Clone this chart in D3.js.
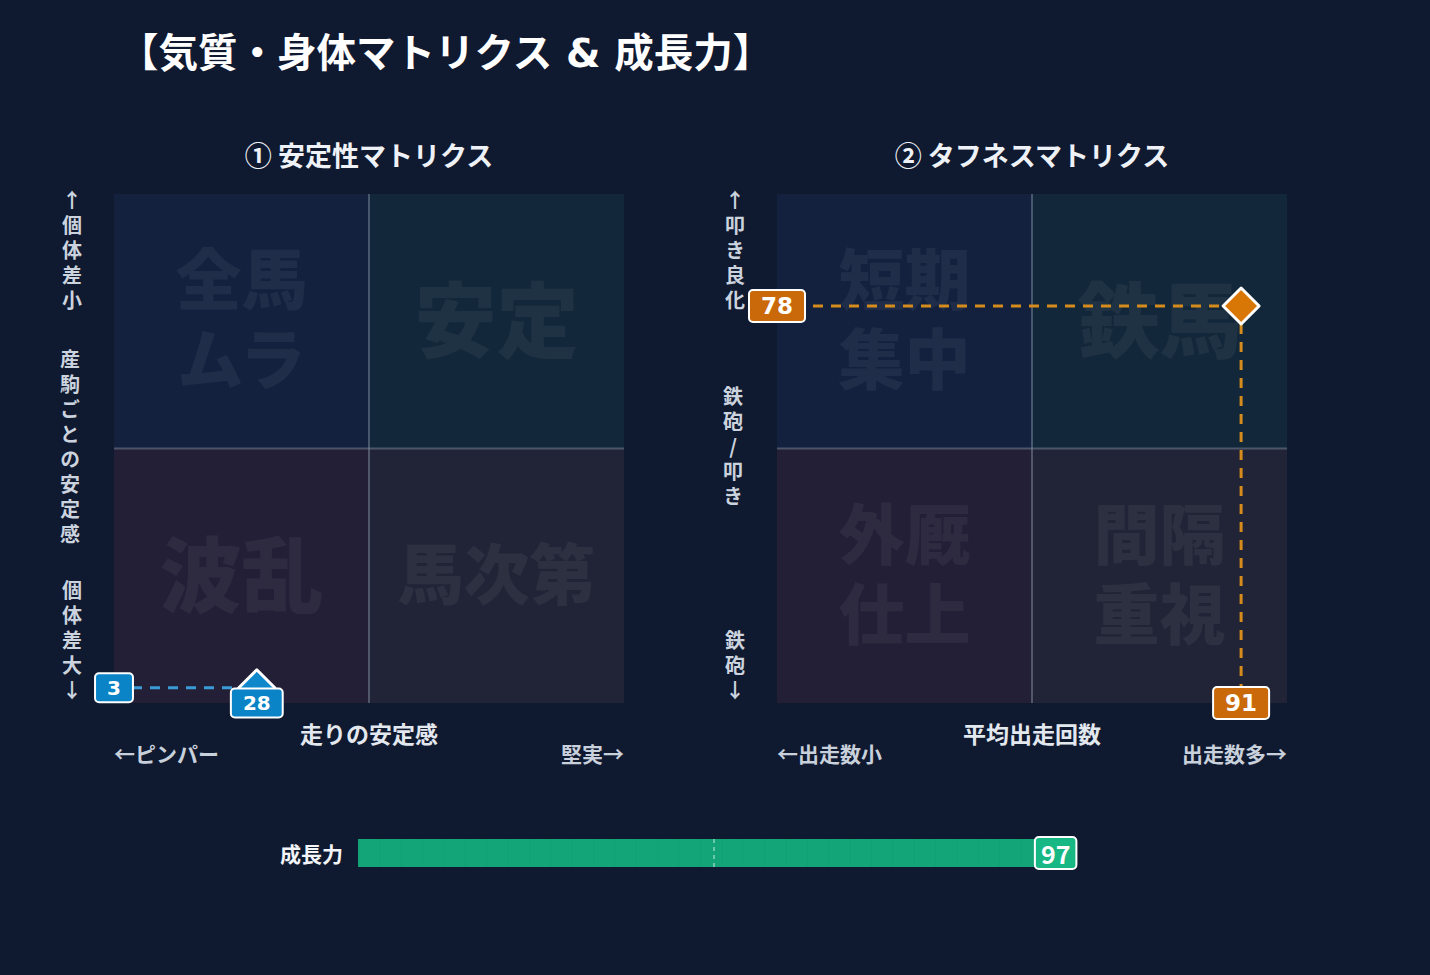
<!DOCTYPE html>
<html>
<head>
<meta charset="utf-8">
<script src="https://cdn.jsdelivr.net/npm/d3@7"></script>
<style>
  body { margin: 0; background: #0f192f; }
  svg { display: block; font-family: "Noto Sans CJK JP", "DejaVu Sans", sans-serif; font-weight: bold; }
  .vlabel { writing-mode: vertical-rl; text-orientation: upright; }
</style>
</head>
<body>
<div id="chart"></div>
<script>
// ---- data ----
const chartTitle = "【気質・身体マトリクス & 成長力】";
const matrixTitles = ["① 安定性マトリクス", "② タフネスマトリクス"];
// quadrant words, order: top-left, top-right, bottom-left, bottom-right
const stabilityQuadrants = [["全馬", "ムラ"], ["安定"], ["波乱"], ["馬次第"]];
const toughnessQuadrants = [["短期", "集中"], ["鉄馬"], ["外厩", "仕上"], ["間隔", "重視"]];
const xAxisTitles = ["走りの安定感", "平均出走回数"];
const xLowLabels = ["←ピンパー", "←出走数小"];
const xHighLabels = ["堅実→", "出走数多→"];
const yTopLabels = ["↑個体差小", "↑叩き良化"];
const yMidLabels = ["産駒ごとの安定感", "鉄砲/叩き"];
const yBottomLabels = ["個体差大↓", "鉄砲↓"];
const xValues = [28, 91];
const yValues = [3, 78];
const growthLabel = "成長力";
const growthValue = 97;

// ---- layout / style ----
const W = 1430, H = 975;
const plotTop = 194, plotBottom = 703, size = 510;
const matrixLeft = [114, 777];
const quadColors = ["#13213f", "#122739", "#221f37", "#212436"];
const markerStyle = [
  { fill: "#0e88cb", box: "#0a84c6", line: "#3b9bd6", font: 20, boxH: 29, pad: 24, family: "DejaVu Sans" },
  { fill: "#d97706", box: "#c9690a", line: "#d68c1c", font: 23, boxH: 32, pad: 24, family: "DejaVu Sans" }
];

const svg = d3.select("#chart").append("svg")
  .attr("width", W).attr("height", H);

svg.append("rect").attr("width", W).attr("height", H).attr("fill", "#0f192f");

svg.append("text")
  .attr("x", 119).attr("y", 67)
  .attr("font-family", "'DejaVu Sans', 'Noto Sans CJK JP', sans-serif")
  .attr("fill", "#ffffff")
  .attr("font-size", 39.5)
  .text(chartTitle);

// vertical label, yFirst = centre of the first character
const vFont = 20, vStep = 25;
function verticalText(g, str, x, yFirst) {
  g.append("text")
    .attr("class", "vlabel")
    .attr("x", x).attr("y", yFirst - vFont / 2)
    .attr("fill", "#cbd3df")
    .attr("font-size", vFont)
    .attr("letter-spacing", vStep - vFont)
    .text(str);
}

// label box centred on (cx, cy)
function valueBox(g, txt, cx, cy, st) {
  const grp = g.append("g");
  const t = grp.append("text")
    .attr("x", cx).attr("y", cy)
    .attr("text-anchor", "middle")
    .attr("dominant-baseline", "central")
    .attr("font-family", st.family)
    .attr("fill", "#ffffff")
    .attr("font-size", st.font)
    .text(txt);
  const w = t.node().getComputedTextLength() + st.pad;
  grp.insert("rect", "text")
    .attr("x", cx - w / 2).attr("y", cy - st.boxH / 2)
    .attr("width", w).attr("height", st.boxH)
    .attr("rx", 4)
    .attr("fill", st.box)
    .attr("stroke", "#ffffff").attr("stroke-width", 2);
}

const quadrantSets = [stabilityQuadrants, toughnessQuadrants];

matrixLeft.forEach((x0, m) => {
  const g = svg.append("g");
  const x = d3.scaleLinear().domain([0, 100]).range([x0, x0 + size]);
  const y = d3.scaleLinear().domain([0, 100]).range([plotBottom, plotTop]);
  const midX = x(50), midY = y(50);
  const qh = (plotBottom - plotTop) / 2;

  // quadrants
  const quads = [
    { x: x(0), y: y(100) }, { x: midX, y: y(100) },
    { x: x(0), y: midY }, { x: midX, y: midY }
  ];
  g.selectAll("rect.quad").data(quads).join("rect")
    .attr("class", "quad")
    .attr("x", d => d.x).attr("y", d => d.y)
    .attr("width", size / 2).attr("height", qh)
    .attr("fill", (d, i) => quadColors[i]);

  // big faded quadrant words
  quadrantSets[m].forEach((lines, i) => {
    const cx = quads[i].x + size / 4;
    const cy = quads[i].y + qh / 2 - 6;
    const longest = d3.max(lines, l => l.length);
    const fs = lines.length > 1 || longest > 2 ? 66 : 82;
    const lh = 80;
    const t = g.append("text")
      .attr("text-anchor", "middle")
      .attr("dominant-baseline", "central")
      .attr("font-weight", 900)
      .attr("font-size", fs)
      .attr("fill", "#ffffff")
      .attr("fill-opacity", 0.055);
    lines.forEach((line, j) => {
      t.append("tspan")
        .attr("x", cx)
        .attr("y", cy + (j - (lines.length - 1) / 2) * lh)
        .text(line);
    });
  });

  // centre lines
  g.append("line")
    .attr("x1", midX).attr("x2", midX).attr("y1", plotTop).attr("y2", plotBottom)
    .attr("stroke", "#8a98ab").attr("stroke-opacity", 0.45).attr("stroke-width", 2);
  g.append("line")
    .attr("x1", x(0)).attr("x2", x(100)).attr("y1", midY).attr("y2", midY)
    .attr("stroke", "#8a98ab").attr("stroke-opacity", 0.45).attr("stroke-width", 2);

  // matrix title
  g.append("text")
    .attr("x", midX).attr("y", 166)
    .attr("text-anchor", "middle")
    .attr("fill", "#eef2f7")
    .attr("font-size", 27)
    .text(matrixTitles[m]);

  // x axis labels
  g.append("text")
    .attr("x", midX).attr("y", 743)
    .attr("text-anchor", "middle")
    .attr("fill", "#e3e8ef")
    .attr("font-size", 23)
    .text(xAxisTitles[m]);
  g.append("text")
    .attr("x", x(0)).attr("y", 762)
    .attr("fill", "#c8d0dc")
    .attr("font-size", 21)
    .text(xLowLabels[m]);
  g.append("text")
    .attr("x", x(100)).attr("y", 762)
    .attr("text-anchor", "end")
    .attr("fill", "#c8d0dc")
    .attr("font-size", 21)
    .text(xHighLabels[m]);

  // y axis labels (vertical)
  const vx = x0 - 42;
  verticalText(g, yTopLabels[m], vx, plotTop + 6);
  const midLen = Array.from(yMidLabels[m]).length;
  verticalText(g, yMidLabels[m], vx - 2, (plotTop + plotBottom) / 2 - 2 - (midLen - 1) * vStep / 2);
  const botLen = Array.from(yBottomLabels[m]).length;
  verticalText(g, yBottomLabels[m], vx, plotBottom - 13 - (botLen - 1) * vStep);

  // marker with guide lines
  const st = markerStyle[m];
  const px = x(xValues[m]), py = y(yValues[m]);
  g.append("line")
    .attr("x1", x(0)).attr("x2", px).attr("y1", py).attr("y2", py)
    .attr("stroke", st.line).attr("stroke-width", 3)
    .attr("stroke-dasharray", "10,8");
  g.append("line")
    .attr("x1", px).attr("x2", px).attr("y1", py).attr("y2", plotBottom)
    .attr("stroke", st.line).attr("stroke-width", 3)
    .attr("stroke-dasharray", "10,8");
  const r = 18;
  g.append("path")
    .attr("d", `M${px},${py - r}L${px + r},${py}L${px},${py + r}L${px - r},${py}Z`)
    .attr("fill", st.fill)
    .attr("stroke", "#ffffff").attr("stroke-width", 3)
    .attr("stroke-linejoin", "round");

  valueBox(g, String(yValues[m]), x(0), py, st);
  valueBox(g, String(xValues[m]), px, plotBottom, st);
});

// ---- growth bar ----
const bx = d3.scaleLinear().domain([0, 100]).range([358, 1070]);
const barY = 839, barH = 28;
const bar = svg.append("g");

bar.append("text")
  .attr("x", 343).attr("y", barY + barH / 2)
  .attr("text-anchor", "end")
  .attr("dominant-baseline", "central")
  .attr("fill", "#f2f4f8")
  .attr("font-size", 21)
  .text(growthLabel);

bar.append("rect")
  .attr("x", bx(0)).attr("y", barY)
  .attr("width", bx(growthValue) - bx(0)).attr("height", barH)
  .attr("fill", "#13a577");

// faint segment stripes
const stripes = d3.range(0, growthValue, 3);
bar.selectAll("rect.stripe").data(stripes).join("rect")
  .attr("class", "stripe")
  .attr("x", d => bx(d)).attr("y", barY)
  .attr("width", 1.5).attr("height", barH)
  .attr("fill", "#000000").attr("fill-opacity", 0.02);

bar.append("line")
  .attr("x1", bx(50)).attr("x2", bx(50))
  .attr("y1", barY).attr("y2", barY + barH)
  .attr("stroke", "#ffffff").attr("stroke-opacity", 0.5)
  .attr("stroke-width", 1.5).attr("stroke-dasharray", "4,4");

valueBox(bar, String(growthValue), bx(growthValue) + 7, barY + barH / 2,
  { box: "#18b884", font: 25, boxH: 32, pad: 12, family: "Noto Sans CJK JP" });
</script>
</body>
</html>
